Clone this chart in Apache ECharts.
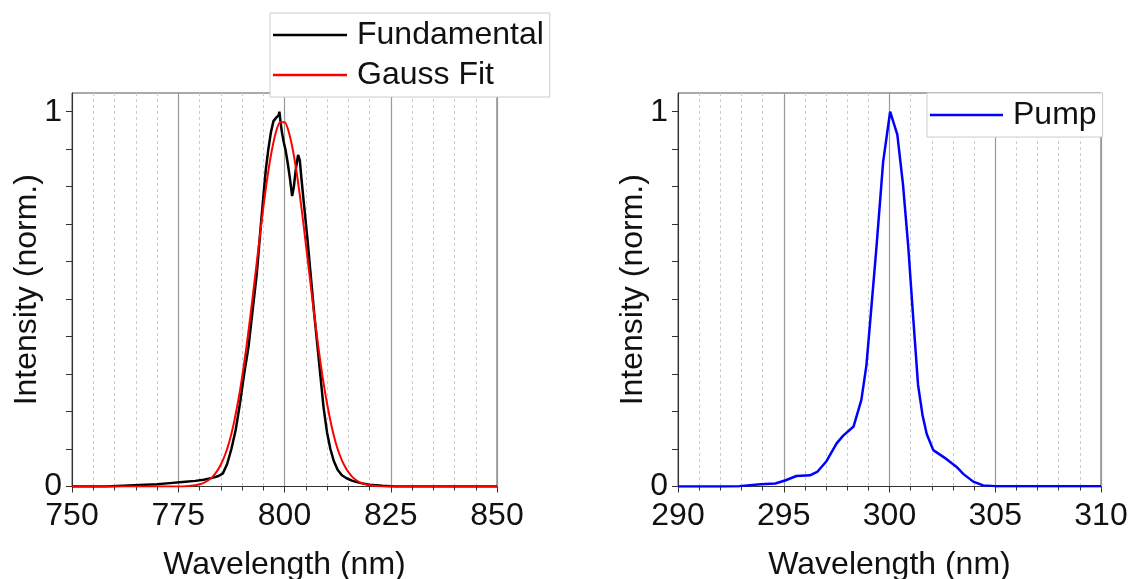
<!DOCTYPE html>
<html>
<head>
<meta charset="utf-8">
<script src="https://cdn.jsdelivr.net/npm/echarts@6/dist/echarts.min.js"></script>
<style>
  html, body { margin: 0; padding: 0; background: #fff; }
  #chart { width: 1131px; height: 579px; }
</style>
</head>
<body>
<div id="chart"></div>
<script>
// measured fundamental spectrum (nm, norm. intensity)
const fundWl = [750, 758, 762, 766, 770, 773, 776, 779, 781, 783, 784.5, 785.5, 786.5, 787.5, 788.5, 789.5,
  790.5, 791.5, 792.5, 793.5, 794.3, 795, 795.6, 796.2, 796.8, 797.4, 798.1, 798.6, 798.8, 799.1, 799.4,
  799.8, 800.3, 800.8, 801.3, 801.8, 802.2, 802.7, 803.2, 803.6, 804.0, 804.6, 805.4, 806.2, 807, 807.8,
  808.5, 809.2, 810, 810.8, 811.6, 812.5, 813.5, 814.6, 816, 818, 820, 823, 826, 850]
const fundInt = [0, 0, 0.002, 0.004, 0.006, 0.009, 0.012, 0.015, 0.018, 0.023, 0.028, 0.035, 0.06, 0.10, 0.15, 0.22,
  0.30, 0.37, 0.47, 0.57, 0.68, 0.77, 0.845, 0.9, 0.945, 0.975, 0.985, 0.99, 1.0, 0.97, 0.945,
  0.92, 0.895, 0.86, 0.82, 0.775, 0.80, 0.85, 0.885, 0.87, 0.82, 0.75, 0.66, 0.56, 0.46, 0.37,
  0.29, 0.21, 0.145, 0.10, 0.068, 0.045, 0.03, 0.022, 0.015, 0.009, 0.005, 0.002, 0, 0]

// gauss fit curve
const fitWl = [750, 775, 778, 779, 780, 781, 782, 783, 784, 785, 786, 787, 788, 789, 790, 791, 792, 793, 794,
  795, 796, 797, 798, 799, 800, 801, 802, 803, 804, 805, 806, 807, 808, 809, 810, 811, 812, 813, 814,
  815, 816, 817, 818, 819, 820, 821, 824, 850]
const fitInt = [0, 0, 0.002, 0.0035, 0.006, 0.0098, 0.016, 0.025, 0.039, 0.058, 0.084, 0.119, 0.165, 0.222, 0.290,
  0.369, 0.458, 0.553, 0.649, 0.743, 0.827, 0.896, 0.946, 0.972, 0.972, 0.946, 0.896, 0.827, 0.743,
  0.649, 0.553, 0.458, 0.369, 0.290, 0.222, 0.165, 0.119, 0.084, 0.058, 0.039, 0.025, 0.016, 0.0098,
  0.0059, 0.0034, 0.002, 0, 0]

// pump spectrum
const pumpWl = [290, 292, 292.9, 293.9, 294.6, 295.06, 295.6, 296.24, 296.6, 297.0, 297.5, 297.8, 298.3, 298.67,
  298.91, 299.14, 299.38, 299.7, 300.03, 300.37, 300.64, 300.88, 301.1, 301.35, 301.56, 301.76, 302.07,
  302.7, 303.16, 303.5, 303.96, 304.43, 305, 310]
const pumpInt = [0, 0, 0.001, 0.006, 0.008, 0.016, 0.028, 0.03, 0.04, 0.066, 0.115, 0.135, 0.16, 0.231,
  0.324, 0.476, 0.636, 0.867, 1.0, 0.939, 0.805, 0.645, 0.467, 0.271, 0.191, 0.14, 0.097,
  0.073, 0.053, 0.033, 0.013, 0.003, 0.001, 0.001]

const yTickVals = [0, 0.1, 0.2, 0.3, 0.4, 0.5, 0.6, 0.7, 0.8, 0.9, 1]
const yLabelVals = [0, 1]

const FONT = 'Liberation Sans, Arial, sans-serif'
const zip = (xs, ys) => xs.map((x, i) => [x, ys[i]])

function xAxisFor(idx, min, max, interval) {
  return {
    gridIndex: idx, type: 'value', min, max, interval,
    name: 'Wavelength (nm)', nameLocation: 'middle', nameGap: 63, nameMoveOverlap: false,
    nameTextStyle: { fontFamily: FONT, fontSize: 32, color: '#111' },
    axisLine: { show: true, lineStyle: { color: '#333', width: 1 } },
    axisTick: { show: true, inside: false, length: 6, lineStyle: { color: '#333' } },
    minorTick: { show: true, splitNumber: 5, length: 4, lineStyle: { color: '#333' } },
    axisLabel: { fontFamily: FONT, fontSize: 32, color: '#111', margin: 14 },
    splitLine: { show: true, lineStyle: { color: '#999', width: 1.2 } },
    minorSplitLine: { show: true, lineStyle: { color: '#ccc', type: [3, 3], width: 1 } },
  }
}

function yAxisFor(idx) {
  return {
    gridIndex: idx, type: 'value', min: 0, max: 1.05,
    name: 'Intensity (norm.)', nameLocation: 'middle', nameGap: 29, nameMoveOverlap: false,
    nameTextStyle: { fontFamily: FONT, fontSize: 32, color: '#111' },
    axisLine: { show: true, lineStyle: { color: '#333', width: 1 } },
    axisTick: { show: true, inside: false, length: 6, customValues: yTickVals, lineStyle: { color: '#333' } },
    axisLabel: { fontFamily: FONT, fontSize: 32, color: '#111', margin: 10, customValues: yLabelVals },
    splitLine: { show: false },
  }
}

const legendBase = {
  orient: 'vertical', icon: 'rect', itemHeight: 2.5, itemGap: 8,
  backgroundColor: '#fff', borderColor: '#ccc', borderWidth: 1, borderRadius: 0,
  textStyle: { fontFamily: FONT, fontSize: 32, color: '#111', padding: [0, 0, 0, 5] },
}

const chart = echarts.init(document.getElementById('chart'))
chart.setOption({
  animation: false,
  backgroundColor: '#fff',
  grid: [
    { left: 72, right: 634, top: 93, bottom: 92.5, outerBoundsMode: 'none', show: true, borderColor: '#555', borderWidth: 1 },
    { left: 678, right: 30, top: 93, bottom: 92.5, outerBoundsMode: 'none', show: true, borderColor: '#555', borderWidth: 1 },
  ],
  xAxis: [xAxisFor(0, 750, 850, 25), xAxisFor(1, 290, 310, 5)],
  yAxis: [yAxisFor(0), yAxisFor(1)],
  legend: [
    Object.assign({}, legendBase, {
      data: ['Fundamental', 'Gauss Fit'], left: 270, top: 13,
      itemWidth: 74, padding: [6, 6, 6, 3],
    }),
    Object.assign({}, legendBase, {
      data: ['Pump'], left: 927, top: 93,
      itemWidth: 73, padding: [6, 6, 6, 3],
    }),
  ],
  series: [
    {
      name: 'Fundamental', type: 'line', xAxisIndex: 0, yAxisIndex: 0,
      data: zip(fundWl, fundInt), symbol: 'none',
      lineStyle: { color: '#000', width: 2.5 }, itemStyle: { color: '#000' },
    },
    {
      name: 'Gauss Fit', type: 'line', xAxisIndex: 0, yAxisIndex: 0,
      data: zip(fitWl, fitInt), symbol: 'none', smooth: 0.3,
      lineStyle: { color: '#f00', width: 2 }, itemStyle: { color: '#f00' },
    },
    {
      name: 'Pump', type: 'line', xAxisIndex: 1, yAxisIndex: 1,
      data: zip(pumpWl, pumpInt), symbol: 'none',
      lineStyle: { color: '#0000ff', width: 2.5 }, itemStyle: { color: '#0000ff' },
    },
  ],
})
</script>
</body>
</html>
